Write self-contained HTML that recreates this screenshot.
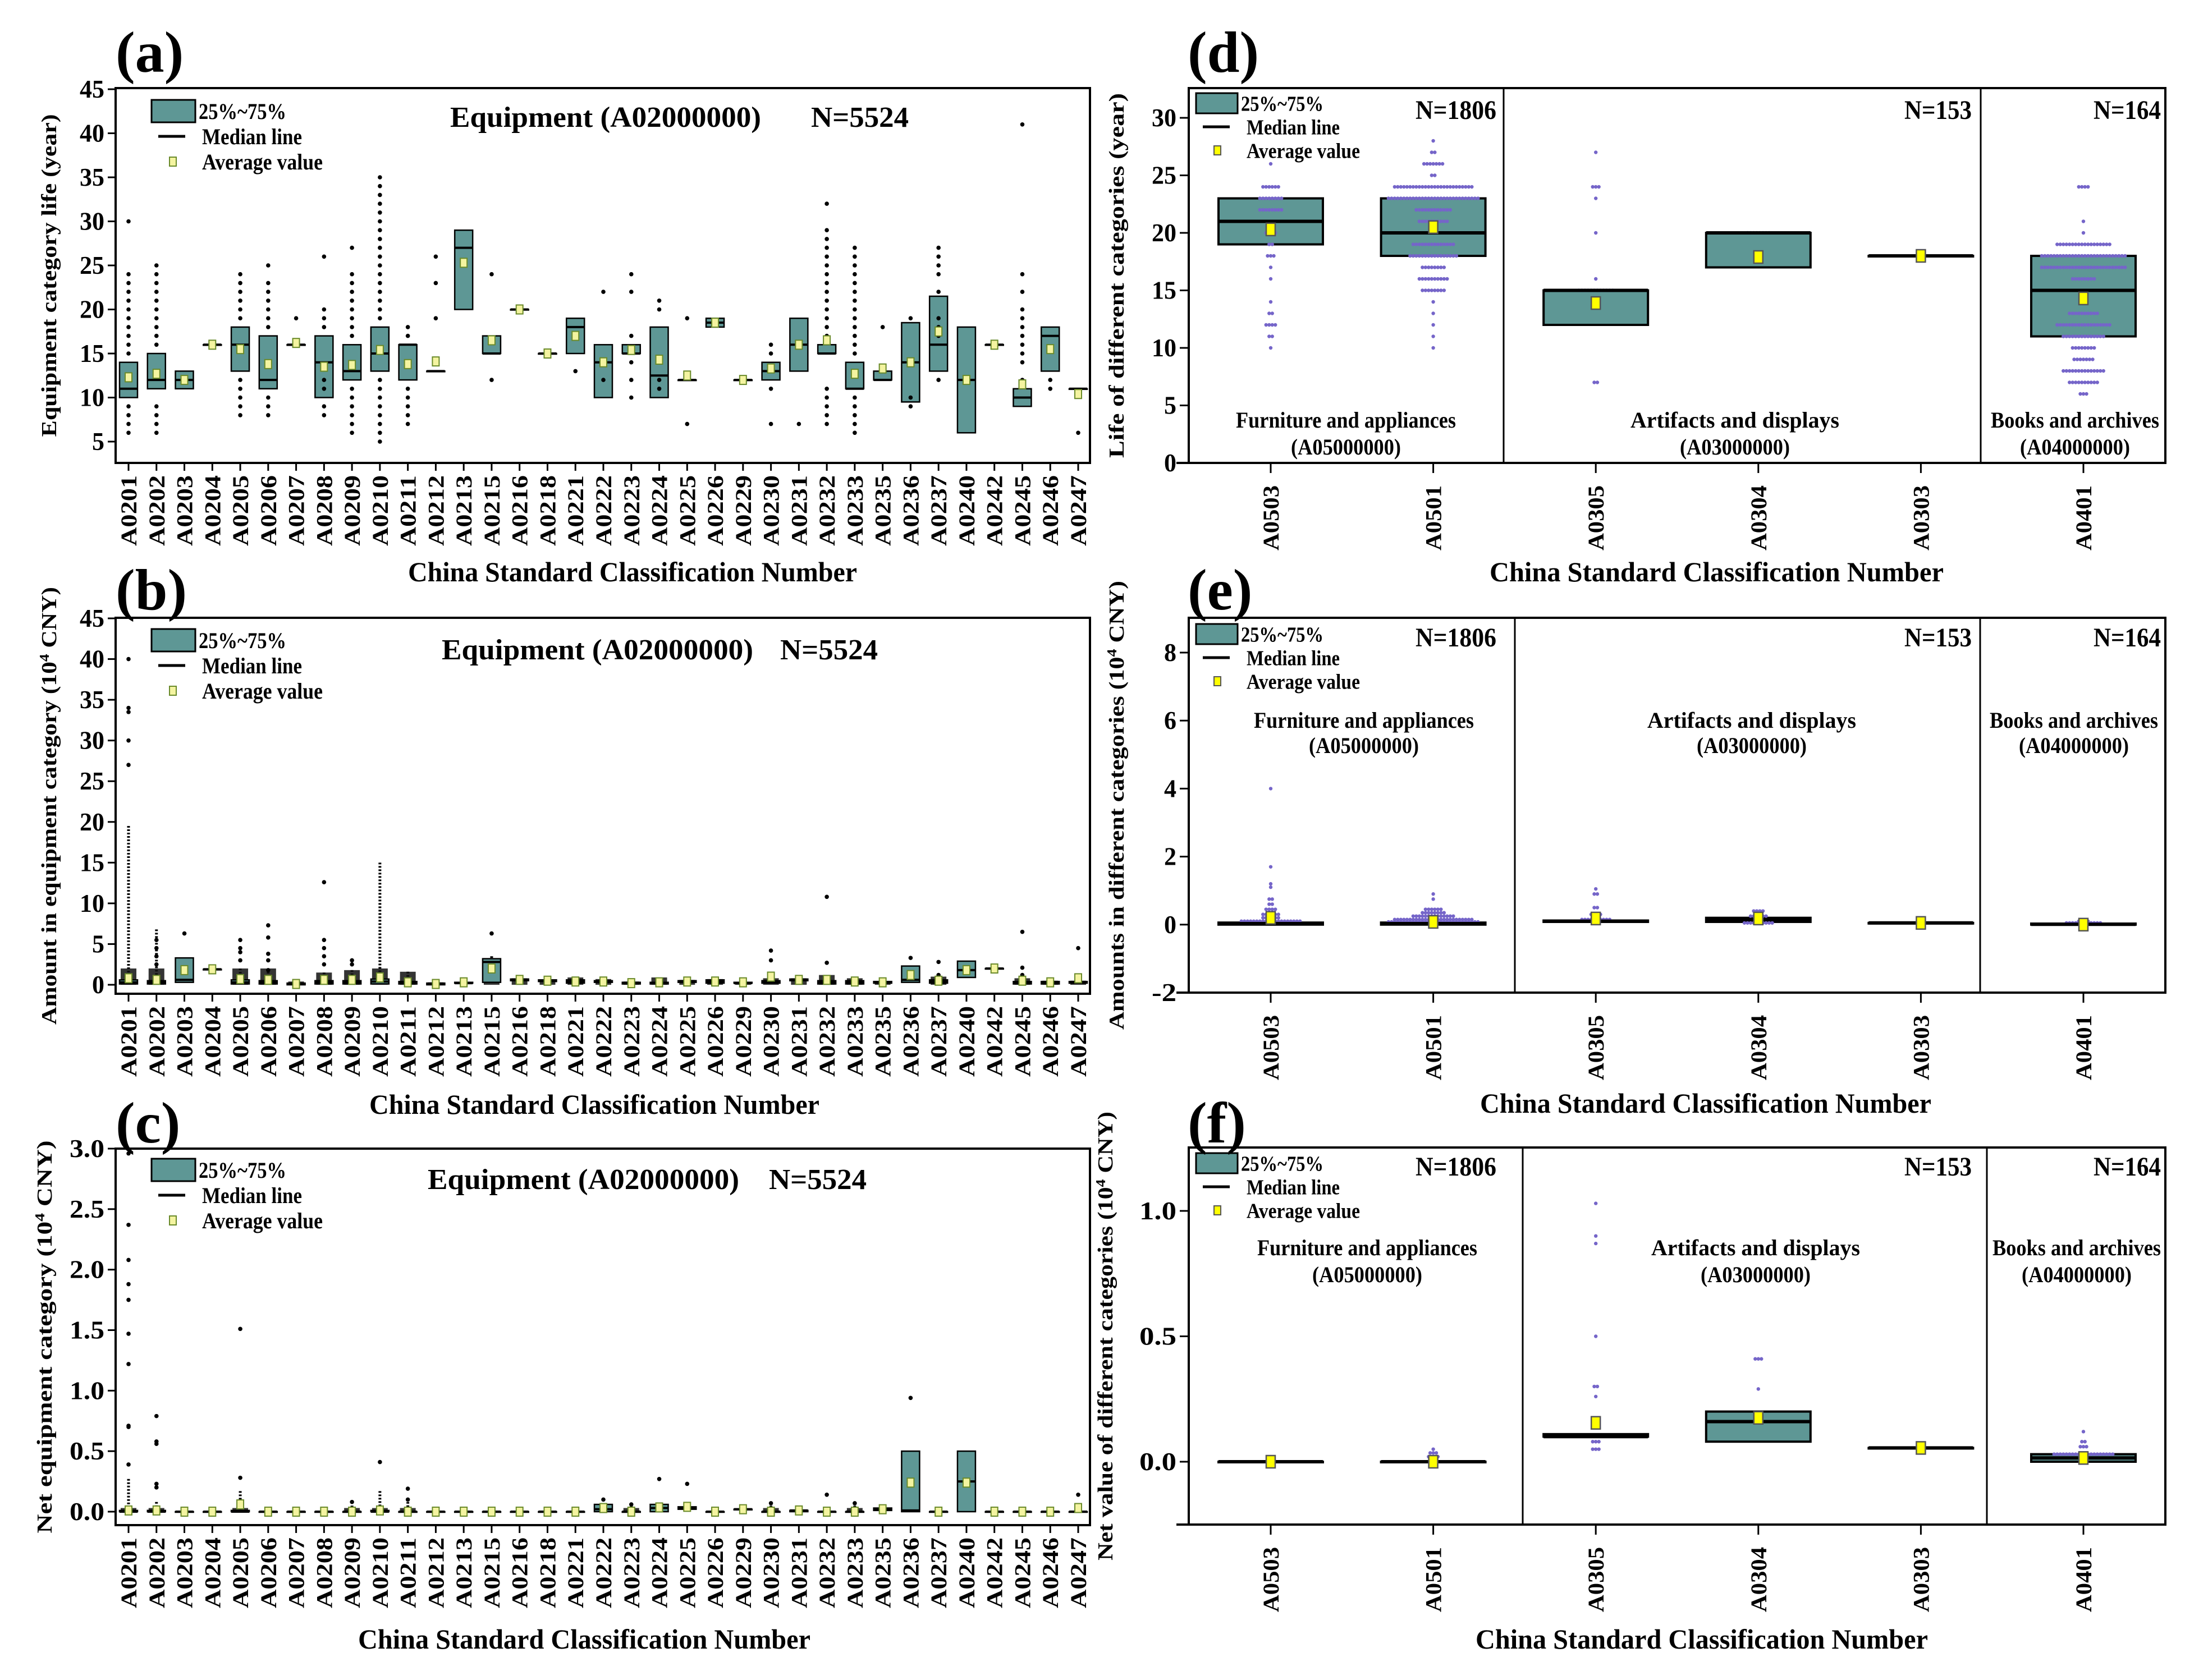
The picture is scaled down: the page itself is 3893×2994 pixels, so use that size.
<!DOCTYPE html>
<html><head><meta charset="utf-8"><style>
html,body{margin:0;padding:0;background:#fff}
svg{display:block}
text{font-family:"Liberation Serif",serif;font-weight:bold;fill:#000}
</style></head><body>
<svg id="fig" width="3893" height="2994" viewBox="0 0 3893 2994" xmlns="http://www.w3.org/2000/svg"></svg>
<script>
// ---------- Panel (a)-(c) data ----------
const eqCats = ["A0201","A0202","A0203","A0204","A0205","A0206","A0207","A0208","A0209","A0210","A0211","A0212","A0213","A0215","A0216","A0218","A0221","A0222","A0223","A0224","A0225","A0226","A0229","A0230","A0231","A0232","A0233","A0235","A0236","A0237","A0240","A0242","A0245","A0246","A0247"];
// (a) life (years)
const aQ1  = [10,11,11,16,13,11,16,10,12,13,12,13,20,15,20,15,15,10,15,10,12,18,12,12,13,15,11,12,9.5,13,6,16,9,13,11];
const aQ3  = [14,15,13,16,18,17,16,17,16,18,16,13,29,17,20,15,19,16,16,18,12,19,12,14,19,16,14,13,18.5,21.5,18,16,11,18,11];
const aMed = [11,12,12,16,16,12,16,14,13,15,16,13,27,15,20,15,18,14,15,12.5,12,18.5,12,13,16,15,11,12,14,16,12,16,10,17,11];
const aMean= [12.3,12.7,12,16,15.5,13.8,16.2,13.5,13.7,15.4,13.8,14.1,25.3,16.5,20,15,17,14,15.4,14.3,12.5,18.5,12,13.3,16,16.5,12.7,13.3,14,17.5,12,16,11.5,15.5,10.4];
const aOut = [[6,7,8,9,15,16,17,18,19,20,21,22,23,24,30],[6,7,8,9,16,17,18,19,20,21,22,23,24,25],[],[],[8,9,10,11,12,19,20,21,22,23,24],[8,9,10,18,19,20,21,22,23,25],[19],[8,9,11,12,18,19,20,26],[6,7,8,9,10,11,17,18,19,20,21,22,23,24,27],[5,6,7,8,9,10,11,12,19,20,21,22,23,24,25,26,27,28,29,30,31,32,33,34,35],[7,8,9,10,11,17,18],[19,23,26],[],[12,24],[],[],[13],[12,22],[10,12,14,17,22,24],[11,12,20,21],[7,19],[],[],[7,11,15,16],[7],[7,8,9,10,11,17,18,19,20,21,22,23,24,25,26,27,28,29,32],[6,7,8,9,10,15,16,17,18,19,20,21,22,23,24,25,26,27],[18],[9,10,19],[12,17,18,19,22,24,25,26,27],[],[],[12,14,15,16,17,18,19,20,22,24,41],[11,12],[6]];
// (b) amount (10^4 CNY)
const bQ1  = [0.1,0.1,0.3,1.9,0.1,0.1,0,0.1,0.1,0.1,0.1,0,0.2,0.3,0.5,0.4,0.2,0.3,0.1,0.1,0.3,0.2,0.2,0.2,0.5,0.1,0.1,0.2,0.3,0.2,0.9,2,0.1,0.1,0.2];
const bQ3  = [0.6,0.5,3.3,1.9,0.6,0.5,0.2,0.5,0.5,0.7,0.4,0.2,0.3,3.2,0.7,0.6,0.6,0.5,0.3,0.3,0.5,0.6,0.3,0.5,0.7,0.5,0.5,0.4,2.3,0.6,2.9,2,0.4,0.4,0.4];
const bMed = [0.3,0.3,0.6,1.9,0.3,0.3,0.1,0.3,0.3,0.4,0.2,0.1,0.2,2.8,0.6,0.5,0.4,0.4,0.2,0.2,0.4,0.4,0.2,0.3,0.6,0.3,0.3,0.3,0.6,0.4,1.8,2,0.3,0.2,0.3];
const bMean= [0.8,0.6,1.8,1.9,0.7,0.6,0.1,0.6,0.6,0.9,0.3,0.1,0.3,2.0,0.6,0.5,0.4,0.4,0.2,0.3,0.4,0.4,0.3,1.0,0.6,0.6,0.4,0.3,1.2,0.5,1.8,2,0.5,0.3,0.8];
const bDenseTop = [19.5,6.8,0,0,2,2,0.4,1.5,1.8,15,1.6,0.3,0,3.5,0.8,0.6,0.9,0.7,0.4,0.9,0.6,0.7,0.3,0.8,0.8,1.2,0.8,0.4,0,1,0,0,0.8,0.5,0.5];
const bOut = [[27,30,33.5,34,40],[2.5,3.5,4.5,5.5],[6.3],[],[3,4,4.5,5.5],[1.8,3,3.8,5.8,7.3],[],[2.5,3.5,4.5,5.5,12.6],[2.5,3],[],[],[],[],[6.3],[],[],[],[],[],[],[],[],[],[3,4.2],[],[2.7,10.8],[],[],[3.3],[1.2,2.8],[],[],[1.2,2.1,6.5],[],[4.5]];
// (c) net value (10^4 CNY)
const cQ1  = [0,0,0,0,0,0,0,0,0,0,0,0,0,0,0,0,0,0,0,0,0.02,0,0.02,0,0,0,0,0.01,0,0,0,0,0,0,0];
const cQ3  = [0.01,0.01,0,0,0.01,0,0,0,0,0.01,0,0,0,0,0,0,0,0.06,0,0.06,0.04,0,0.02,0,0.01,0,0,0.03,0.5,0,0.5,0,0,0,0];
const cMed = [0,0,0,0,0,0,0,0,0,0,0,0,0,0,0,0,0,0.02,0,0.03,0.03,0,0.02,0,0.01,0,0,0.02,0.01,0,0.25,0,0,0,0];
const cMean= [0.01,0.01,0,0,0.06,0,0,0,0,0.01,0,0,0,0,0,0,0,0.03,0,0.035,0.04,0,0.02,0,0.01,0,0,0.02,0.24,0,0.24,0,0,0,0.03];
const cDenseTop = [0.27,0.08,0,0,0.17,0,0,0,0.05,0.17,0.08,0,0,0,0,0,0,0,0.05,0,0,0,0,0.05,0,0,0.05,0,0.05,0,0,0,0,0,0];
const cOut = [[0.39,0.7,0.71,1.22,1.47,1.75,1.88,2.08,2.37,2.96],[0.2,0.23,0.56,0.58,0.79],[],[],[0.28,1.51],[],[],[],[0.08],[0.41],[0.1,0.19],[],[],[],[],[],[],[0.1],[0.06],[0.27],[0.23],[],[],[0.07],[],[0.14],[0.07],[],[0.94],[],[],[],[],[],[0.14]];

// ---------- Panel (d)-(f) data ----------
const grpCats = ["A0503","A0501","A0305","A0304","A0303","A0401"];
const dQ1=[19,18,12,17,18,11], dQ3=[23,23,15,20,18,18], dMed=[21,20,15,20,18,15], dMean=[20.3,20.5,13.9,17.9,18,14.3];
const dRows=[[[26,1],[24,6],[23,8],[22,8],[20,4],[19,2],[18,3],[17,1],[16,1],[14,1],[13,2],[12,4],[11,2],[10,1]],
 [[28,1],[27,2],[26,7],[25,2],[24,26],[23,30],[22,12],[21,10],[19,14],[18,16],[17,8],[16,10],[15,8],[14,1],[13,1],[12,1],[11,1],[10,1]],
 [[27,1],[24,3],[23,1],[20,1],[16,1],[15,12],[14,2],[7,2]],
 [[20,8]],[],
 [[24,4],[21,1],[20,1],[19,18],[18,28],[17,28],[16,8],[13,10],[12,18],[11,14],[10,8],[9,7],[8,14],[7,10],[6,3]]];
const eQ1=[0,0,0.08,0.08,0.05,0], eQ3=[0.06,0.06,0.12,0.2,0.05,0.03], eMed=[0.03,0.03,0.1,0.15,0.05,0.01], eMean=[0.2,0.08,0.18,0.18,0.05,0.0];
const eRows=[[[4.0,1],[1.7,1],[1.2,1],[1.1,1],[0.75,2],[0.6,2],[0.45,4],[0.3,6],[0.2,6],[0.1,20]],
 [[0.9,1],[0.75,1],[0.45,6],[0.35,8],[0.25,14],[0.15,26],[0.08,30]],
 [[1.05,1],[0.9,2],[0.5,2],[0.3,4],[0.15,10]],
 [[0.4,4],[0.25,6],[0.05,10]],[],
 [[0.1,4],[0.05,12]]];
const fQ1=[0,0,0.1,0.08,0.055,0], fQ3=[0,0,0.11,0.2,0.055,0.03], fMed=[0,0,0.1,0.16,0.055,0.015], fMean=[0,0,0.155,0.175,0.055,0.015];
const fRows=[[],
 [[0.05,1],[0.035,3],[0.02,4]],
 [[1.03,1],[0.9,1],[0.87,1],[0.5,1],[0.3,2],[0.26,1],[0.15,2],[0.08,3],[0.05,3]],
 [[0.41,3],[0.29,1]],[],
 [[0.12,1],[0.08,2],[0.06,3],[0.03,20]]];

// ---------- drawing ----------
const svg=document.getElementById('fig');
const NS='http://www.w3.org/2000/svg';
function el(tag,attrs,parent){const e=document.createElementNS(NS,tag);for(const k in attrs)e.setAttribute(k,attrs[k]);(parent||svg).appendChild(e);return e;}
function txt(s,attrs,parent){const t=el('text',attrs,parent);t.textContent=s;return t;}
const TEAL='#5e9795', PURPLE='#7565c9';

function lin(d0,d1,r0,r1){return v=>r0+(v-d0)*(r1-r0)/(d1-d0);}

function legend(g,x,y,fs,step,big,w){
  const lg=el('g',{},g);
  
  
  const bw=big?74:78,bh=big?36:40;
  el('rect',{x:x,y:y,width:bw,height:bh,fill:TEAL,stroke:'#000','stroke-width':3},lg);
  txt('25%~75%',{x:x+bw+6,y:y+bh/2+fs*0.35,'font-size':fs,'textLength':w[0],'lengthAdjust':'spacingAndGlyphs'},lg);
  el('line',{x1:x+12,x2:x+60,y1:y+bh/2+step,y2:y+bh/2+step,stroke:'#000','stroke-width':5},lg);
  txt('Median line',{x:x+90,y:y+bh/2+step+fs*0.35,'font-size':fs,'textLength':w[1],'lengthAdjust':'spacingAndGlyphs'},lg);
  el('rect',{x:x+32,y:y+bh/2+2*step-8,width:12,height:16,fill:big?'#ffff00':'#f4f4a0',stroke:big?'#555':'#6a8a2a','stroke-width':2},lg);
  txt('Average value',{x:x+90,y:y+bh/2+2*step+fs*0.35,'font-size':fs,'textLength':w[2],'lengthAdjust':'spacingAndGlyphs'},lg);
}

function eqPanel(o){
  const g=el('g',{});
  
  
  const L=206,R=1942,T=o.top,B=o.bottom;
  const y=lin(o.t0,o.t1,o.p0,o.p1);
  const x=i=>229+i*(1921-229)/(eqCats.length-1);
  txt(o.letter,{x:206,y:o.letterY,'font-size':104});
  el('rect',{x:L,y:T,width:R-L,height:B-T,fill:'none',stroke:'#000','stroke-width':4},g);
  o.ticks.forEach(v=>{
    el('line',{x1:L-14,x2:L,y1:y(v),y2:y(v),stroke:'#000','stroke-width':3},g);
    const s=o.fmt(v);
    const t=txt(s,{x:L-20,y:y(v)+15,'font-size':46,'text-anchor':'end','textLength':s.length>2?62:s.length*22,'lengthAdjust':'spacingAndGlyphs'},g);
    
  });
  eqCats.forEach((c,i)=>{
    const cx=x(i);
    el('line',{x1:cx,x2:cx,y1:B,y2:B+14,stroke:'#000','stroke-width':3},g);
    const t=txt(c,{transform:`translate(${cx+14},${B+22}) rotate(-90)`,'font-size':40,'text-anchor':'end','textLength':126,'lengthAdjust':'spacingAndGlyphs'},g);
    
    if(o.dense && o.dense[i]>0){
      const top=y(o.dense[i]);
      const ln=el('line',{x1:cx,x2:cx,y1:top,y2:y(o.q3[i]),stroke:'#000','stroke-width':5,'stroke-dasharray':'3,3'},g);
      
      
      const bt=Math.min(o.dense[i],o.blobCap);
      const blob=el('rect',{x:cx-14,y:y(bt),width:28,height:Math.max(3,y(0)-y(bt)),fill:'#111',opacity:0.85},g);
      
      
    }
    const yq3=y(o.q3[i]),yq1=y(o.q1[i]);
    const b=el('rect',{x:cx-16,y:yq3,width:32,height:Math.max(1,yq1-yq3),fill:TEAL,stroke:'#000','stroke-width':2.5},g);
    
    
    el('line',{x1:cx-16,x2:cx+16,y1:y(o.med[i]),y2:y(o.med[i]),stroke:'#000','stroke-width':4},g);
    o.out[i].forEach(v=>{
      const d=el('circle',{cx:cx,cy:y(v),r:3.8,fill:'#000'},g);
      
      
    });
    const m=el('rect',{x:cx-6,y:y(o.mean[i])-8,width:12,height:16,fill:'#f4f4a0',stroke:'#6a8a2a','stroke-width':2},g);
    
    
  });
  const t1=txt('Equipment (A02000000)',{x:o.titleX,y:o.titleY,'font-size':52,'textLength':o.titleW,'lengthAdjust':'spacingAndGlyphs'},g);
  
  txt('N=5524',{x:o.nX,y:o.titleY,'font-size':52,'textLength':174,'lengthAdjust':'spacingAndGlyphs'},g);
  legend(g,270,o.legY,40,45,false,[156,178,215]);
  const yt=txt('',{transform:`translate(${o.ytX},${(T+B)/2}) rotate(-90)`,'font-size':38,'text-anchor':'middle','textLength':o.ytLen,'lengthAdjust':'spacingAndGlyphs'},g);
  
  yt.innerHTML=o.ytitle;
  const xt=txt('China Standard Classification Number',{x:o.xtX,y:o.xtY,'font-size':50,'textLength':o.xtW,'lengthAdjust':'spacingAndGlyphs'},g);
  
}

function grpPanel(o){
  const g=el('g',{});
  
  
  const L=2118,R=3858,T=o.top,B=o.bottom;
  const y=lin(o.t0,o.t1,o.p0,o.p1);
  const x=i=>2264+i*(3712-2264)/(grpCats.length-1);
  txt(o.letter,{x:2116,y:o.letterY,'font-size':104});
  el('rect',{x:L,y:T,width:R-L,height:B-T,fill:'none',stroke:'#000','stroke-width':4},g);
  el('line',{x1:L-22,x2:L,y1:B,y2:B,stroke:'#000','stroke-width':4},g);
  o.div.forEach(dx=>el('line',{x1:dx,x2:dx,y1:T,y2:B,stroke:'#000','stroke-width':3},g));
  o.ticks.forEach(v=>{
    el('line',{x1:L-16,x2:L,y1:y(v),y2:y(v),stroke:'#000','stroke-width':3},g);
    const s=o.fmt(v);
    const t=txt(s,{x:L-22,y:y(v)+15,'font-size':46,'text-anchor':'end','textLength':s.length*22,'lengthAdjust':'spacingAndGlyphs'},g);
    
  });
  grpCats.forEach((c,i)=>{
    const cx=x(i);
    el('line',{x1:cx,x2:cx,y1:B,y2:B+18,stroke:'#000','stroke-width':3},g);
    const t=txt(c,{transform:`translate(${cx+14},${B+40}) rotate(-90)`,'font-size':40,'text-anchor':'end','textLength':116,'lengthAdjust':'spacingAndGlyphs'},g);
    
    const yq3=y(o.q3[i]),yq1=y(o.q1[i]);
    const b=el('rect',{x:cx-93,y:yq3,width:186,height:Math.max(1,yq1-yq3),fill:TEAL,stroke:'#000','stroke-width':4},g);
    
    
    o.rows[i].forEach(([v,n])=>{
      for(let k=0;k<n;k++){
        const d=el('circle',{cx:cx+(k-(n-1)/2)*5.5,cy:y(v),r:3.2,fill:PURPLE},g);
        
        
      }
    });
    el('line',{x1:cx-93,x2:cx+93,y1:y(o.med[i]),y2:y(o.med[i]),stroke:'#000','stroke-width':6},g);
    const m=el('rect',{x:cx-8,y:y(o.mean[i])-11,width:16,height:22,fill:'#ffff00',stroke:'#555','stroke-width':2.5},g);
    
    
  });
  legend(g,2131,o.legY,38,o.legStep,true,[147,166,202]);
  [['N=1806',2666],['N=153',3513],['N=164',3850]].forEach(([s,xx])=>{
    const t=txt(s,{x:xx,y:o.nY,'font-size':48,'text-anchor':'end','textLength':s.length*24,'lengthAdjust':'spacingAndGlyphs'},g);
    
  });
  [['Furniture and appliances','(A05000000)',o.gx[0],392],['Artifacts and displays','(A03000000)',o.gx[1],372],['Books and archives','(A04000000)',o.gx[2],300]].forEach(([a,b,xx,w])=>{
    const t=txt(a,{x:xx,y:o.gy[0],'font-size':40,'text-anchor':'middle','textLength':w,'lengthAdjust':'spacingAndGlyphs'},g);
    
    txt(b,{x:xx,y:o.gy[1],'font-size':40,'text-anchor':'middle','textLength':196,'lengthAdjust':'spacingAndGlyphs'},g);
  });
  const yt=txt('',{transform:`translate(${o.ytX},${(T+B)/2}) rotate(-90)`,'font-size':38,'text-anchor':'middle','textLength':o.ytLen,'lengthAdjust':'spacingAndGlyphs'},g);
  
  yt.innerHTML=o.ytitle;
  const xt=txt('China Standard Classification Number',{x:o.xtX,y:o.xtY,'font-size':50,'textLength':o.xtW,'lengthAdjust':'spacingAndGlyphs'},g);
  
}

const cny='(10<tspan baseline-shift="super" font-size="24">4</tspan> CNY)';
eqPanel({name:'panel-a',letter:'(a)',letterY:128,top:157,bottom:825,t0:5,t1:45,p0:787,p1:159,ticks:[5,10,15,20,25,30,35,40,45],fmt:v=>String(v),
 q1:aQ1,q3:aQ3,med:aMed,mean:aMean,out:aOut,titleX:802,titleY:226,titleW:554,nX:1445,legY:178,ytX:100,ytLen:575,ytitle:'Equipment category life (year)',xtX:727,xtY:1036,xtW:800});
eqPanel({name:'panel-b',letter:'(b)',letterY:1086,top:1101,bottom:1771,t0:0,t1:45,p0:1755,p1:1102,ticks:[0,5,10,15,20,25,30,35,40,45],fmt:v=>String(v),
 q1:bQ1,q3:bQ3,med:bMed,mean:bMean,out:bOut,dense:bDenseTop,blobCap:2.0,titleX:787,titleY:1175,titleW:555,nX:1390,legY:1121,ytX:100,ytLen:780,ytitle:'Amount in equipment category '+cny,xtX:658,xtY:1985,xtW:802});
eqPanel({name:'panel-c',letter:'(c)',letterY:2036,top:2047,bottom:2718,t0:0,t1:3,p0:2694,p1:2047,ticks:[0,0.5,1,1.5,2,2.5,3],fmt:v=>v.toFixed(1),
 q1:cQ1,q3:cQ3,med:cMed,mean:cMean,out:cOut,dense:cDenseTop,blobCap:0.03,titleX:762,titleY:2119,titleW:555,nX:1370,legY:2065,ytX:92,ytLen:700,ytitle:'Net equipment category '+cny,xtX:638,xtY:2938,xtW:806});
grpPanel({name:'panel-d',letter:'(d)',letterY:128,top:157,bottom:825,t0:0,t1:30,p0:825,p1:210,ticks:[0,5,10,15,20,25,30],fmt:v=>String(v),
 q1:dQ1,q3:dQ3,med:dMed,mean:dMean,rows:dRows,div:[2679,3529],legY:166,legStep:42,nY:212,gx:[2398,3091,3697],gy:[762,810],ytX:2002,ytLen:650,ytitle:'Life of different categories (year)',xtX:2654,xtY:1036,xtW:809});
grpPanel({name:'panel-e',letter:'(e)',letterY:1086,top:1101,bottom:1769,t0:-2,t1:8,p0:1769,p1:1163,ticks:[-2,0,2,4,6,8],fmt:v=>String(v),
 q1:eQ1,q3:eQ3,med:eMed,mean:eMean,rows:eRows,div:[2699,3528],legY:1112,legStep:42,nY:1152,gx:[2430,3121,3695],gy:[1297,1342],ytX:2002,ytLen:800,ytitle:'Amounts in different categories '+cny,xtX:2637,xtY:1983,xtW:804});
grpPanel({name:'panel-f',letter:'(f)',letterY:2036,top:2045,bottom:2717,t0:0,t1:1,p0:2605,p1:2158,ticks:[0,0.5,1],fmt:v=>v.toFixed(1),
 q1:fQ1,q3:fQ3,med:fMed,mean:fMean,rows:fRows,div:[2713,3540],legY:2055,legStep:42,nY:2095,gx:[2436,3128,3700],gy:[2237,2285],ytX:1982,ytLen:800,ytitle:'Net value of different categories '+cny,xtX:2629,xtY:2938,xtW:806});
</script>
</body></html>
